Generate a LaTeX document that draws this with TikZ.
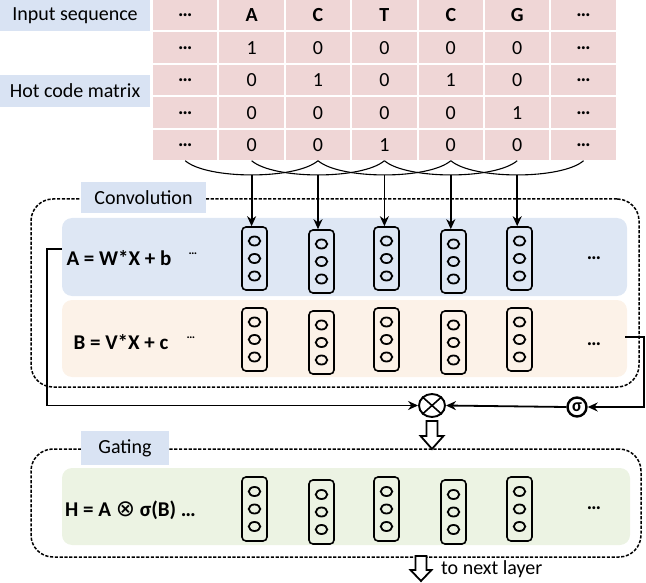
\documentclass[tikz,border=0pt]{standalone}
\usepackage{fontspec}
\setmainfont{Carlito}
\newfontfamily\dejavu{DejaVu Sans}
\usetikzlibrary{arrows.meta,shapes.geometric,calc}
\definecolor{pinkc}{RGB}{239,214,214}
\definecolor{lblue}{RGB}{217,227,243}
\definecolor{pblue}{RGB}{222,231,244}
\definecolor{porange}{RGB}{252,242,232}
\definecolor{pgreen}{RGB}{236,243,227}
\newcommand{\mydots}{{\bfseries …}}
\newcommand{\middots}{\raisebox{0.3em}{\fontsize{12}{12}\selectfont\bfseries …}}
\begin{document}
\begin{tikzpicture}[x=1pt,y=-1pt,font=\fontsize{20}{23}\selectfont,
  cell/.style={fill=pinkc,minimum width=64.4pt,minimum height=30.5pt,inner sep=0pt},
  lbl/.style={fill=lblue,inner sep=0pt},
  dbox/.style={draw,dash pattern=on 3.2pt off 1.6pt,line width=1.5pt,rounded corners=22pt,inner sep=0pt},
  panel/.style={rounded corners=10pt,inner sep=0pt,minimum width=565pt,minimum height=78pt},
  capsule/.style={draw,line width=1.6pt,rounded corners=4pt,minimum width=25pt,minimum height=63pt,inner sep=0pt},
  unit/.style={ellipse,draw,line width=1.8pt,minimum width=11.5pt,minimum height=9pt,inner sep=0pt},
  arr/.style={line width=1.8pt,-{Stealth[length=10pt,width=9pt]}},
  hollow/.style={draw,line width=1.8pt,fill=white},
  eq/.style={font=\fontsize{21}{24}\selectfont\bfseries,inner sep=0pt}
]
\useasboundingbox (0,0) rectangle (646,583);

% ---- table ----
\foreach \j/\t in {0/\mydots,1/\textbf{A},2/\textbf{C},3/\textbf{T},4/\textbf{C},5/\textbf{G},6/\mydots}
  \node[cell] (c-0-\j) at ({185.2+66.4*\j},15.25) {\t};
\foreach \j/\t in {0/\mydots,1/1,2/0,3/0,4/0,5/0,6/\mydots}
  \node[cell] (c-1-\j) at ({185.2+66.4*\j},47.75) {\t};
\foreach \j/\t in {0/\mydots,1/0,2/1,3/0,4/1,5/0,6/\mydots}
  \node[cell] (c-2-\j) at ({185.2+66.4*\j},80.25) {\t};
\foreach \j/\t in {0/\mydots,1/0,2/0,3/0,4/0,5/1,6/\mydots}
  \node[cell] (c-3-\j) at ({185.2+66.4*\j},112.75) {\t};
\foreach \j/\t in {0/\mydots,1/0,2/0,3/1,4/0,5/0,6/\mydots}
  \node[cell] (c-4-\j) at ({185.2+66.4*\j},145.25) {\t};

\node[lbl,minimum width=150pt,minimum height=31pt] (inseq) at (75,15.5) {Input sequence};
\node[lbl,minimum width=150pt,minimum height=32pt] (hot) at (75,91) {Hot code matrix};

% ---- convolution block ----
\node[dbox,minimum width=608pt,minimum height=188pt] (conv) at (335,293) {};
\node[lbl,minimum width=125pt,minimum height=31pt] (convl) at (143.5,197.5) {Convolution};
\node[panel,fill=pblue] (pA) at (344.5,257) {};
\node[panel,fill=porange,minimum height=77pt] (pB) at (344.5,338.5) {};
\node[eq] (eqA) at (119,258) {A = W*X + b};
\node[inner sep=0pt] (dA) at (193,257) {\middots};
\node[eq] (eqB) at (121,342) {B = V*X + c};
\node[inner sep=0pt] (dB) at (191,341) {\middots};
\node[inner sep=0pt] (rA) at (594,258) {\mydots};
\node[inner sep=0pt] (rB) at (594,344) {\mydots};

% ---- gating block ----
\node[dbox,minimum width=610pt,minimum height=108pt] (gate) at (336,503) {};
\node[lbl,minimum width=88pt,minimum height=34pt] (gatel) at (125,448) {Gating};
\node[panel,fill=pgreen,minimum width=568pt,minimum height=77pt] (pH) at (346,506.5) {};
\node[eq,anchor=west] (eqH) at (65,510) {H = A {\dejavu\fontsize{23}{23}\selectfont\mdseries ⊗} σ(B) …};
\node[inner sep=0pt] (rH) at (594,508) {\mydots};

% ---- capsules ----
\foreach \j/\x/\dy in {1/254.5/0,2/321.5/3,3/386.5/0,4/453.5/3,5/519.5/0} {
  \node[capsule] (capA\j) at (\x,{258.5+\dy}) {};
  \node[capsule] (capB\j) at (\x,{339.5+\dy}) {};
  \node[capsule,minimum height=64pt] (capH\j) at (\x,{509+\dy}) {};
  \foreach \c in {A,B,H}
    \foreach \k/\n in {-17.5/1,0/2,17.5/3}
      \node[unit] (u\c\j\n) at ($(cap\c\j.center)+(0,\k)$) {};
}

% ---- receptive-field curves and arrows ----
\foreach \j in {1,...,5} {
  \pgfmathtruncatemacro{\jm}{\j-1}
  \pgfmathtruncatemacro{\jp}{\j+1}
  \draw[line width=1.1pt] (c-4-\jm.south) .. controls +(22,19) and +(-22,19) .. (c-4-\jp.south);
  \coordinate (t\j) at ({185.2+66.4*\j},175);
  \draw[arr] (t\j) -- (t\j |- capA\j.north);
}

% ---- gating operators ----
\node[ellipse,draw,line width=1.9pt,minimum width=26pt,minimum height=23pt,inner sep=0pt] (ot) at (432,405.5) {};
\draw[line width=1.6pt] (ot.north west) -- (ot.south east) (ot.north east) -- (ot.south west);
\node[circle,draw,line width=2.4pt,minimum size=19pt,inner sep=0pt,font=\fontsize{18}{18}\selectfont\bfseries] (sig) at (577,407) {σ};

\coordinate (aout) at (62,249);
\coordinate (bout) at (625,337);
\draw[arr] (aout) -- ++(-15,0) |- (ot.west);
\draw[arr] (bout) -- ++(19,0) |- (sig.east);
\draw[arr] (sig.west) -- (ot.east);

% ---- hollow arrows ----
\draw[hollow] ($(ot.south)+(-5.5,3)$) -- ++(0,15) -- ++(-6,0) -- ($(ot.south)+(0,31)$)
  -- ($(ot.south)+(11.5,18)$) -- ++(-6,0) -- ++(0,-15) -- cycle;
\coordinate (gout) at (421,556);
\draw[hollow] ($(gout)+(-5.5,0)$) -- ++(0,14) -- ++(-5,0) -- ($(gout)+(0,25)$)
  -- ($(gout)+(10.5,14)$) -- ++(-5,0) -- ++(0,-14) -- cycle;
\node[anchor=west,inner sep=0pt] (next) at (441,569) {to next layer};
\end{tikzpicture}
\end{document}
